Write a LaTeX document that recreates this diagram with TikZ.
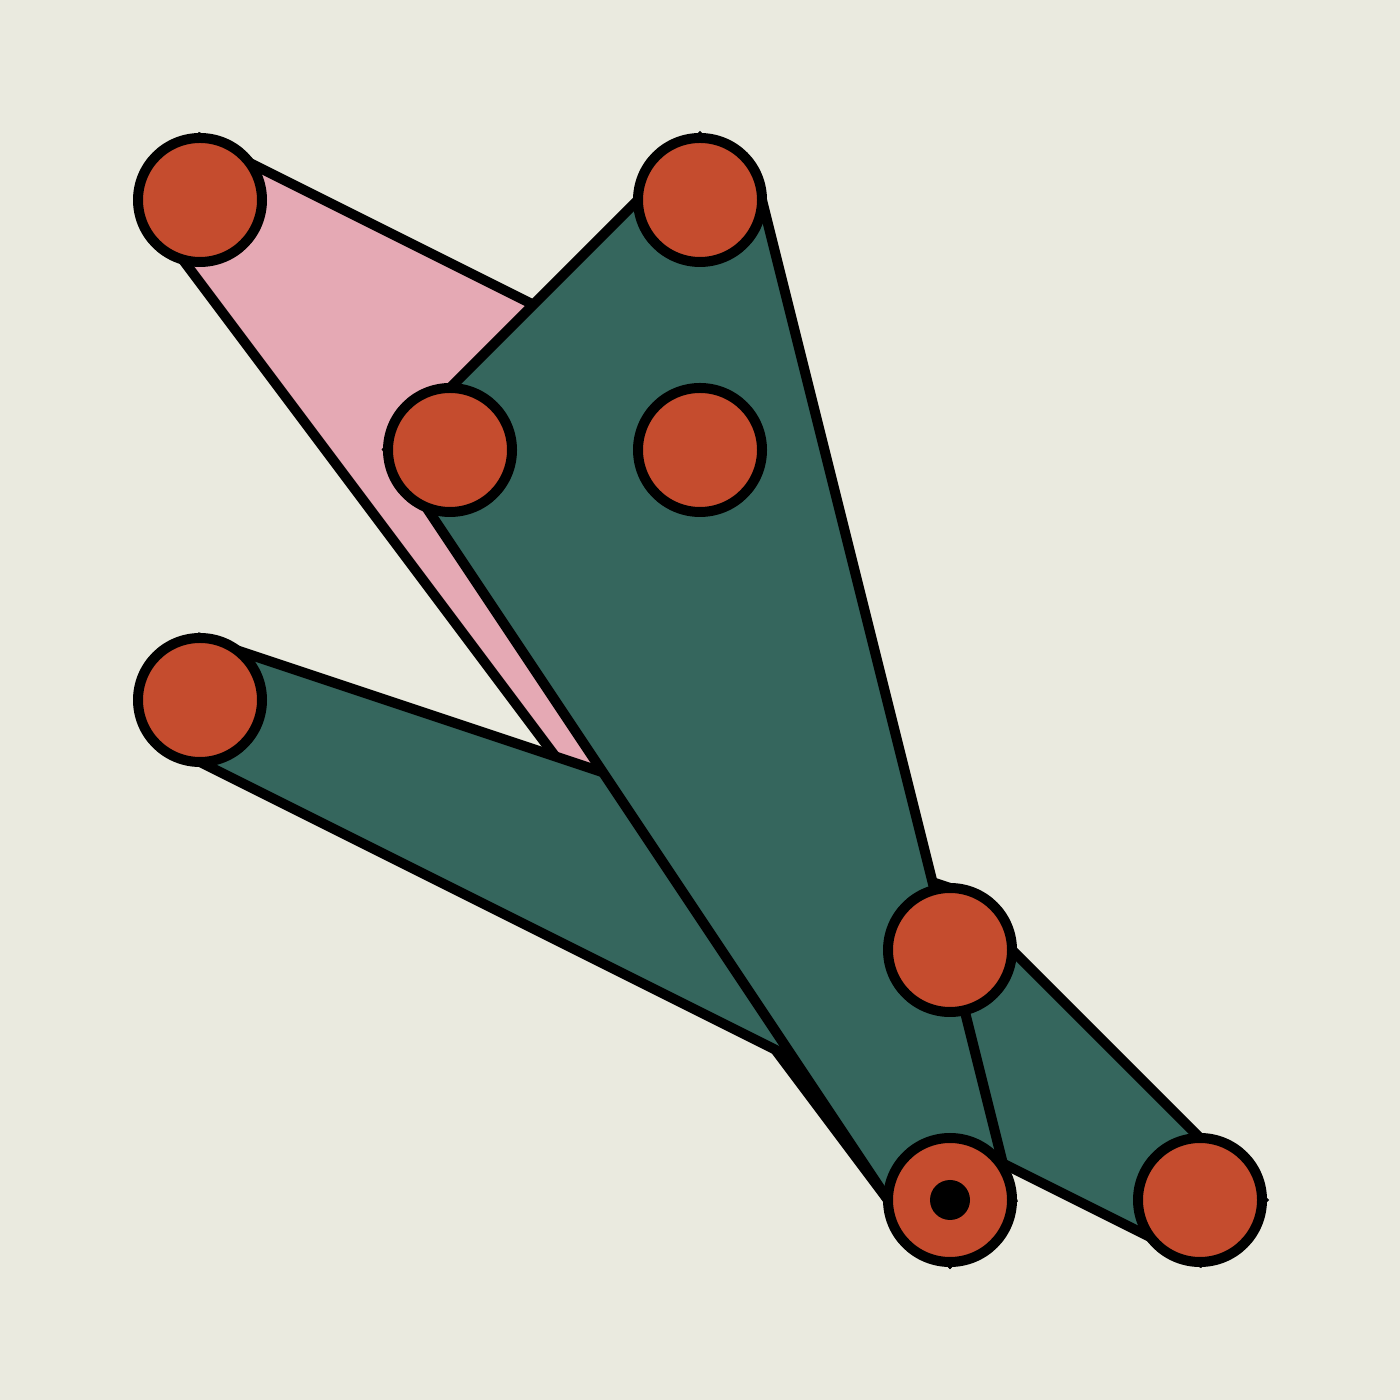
\documentclass[tikz,border=0pt]{standalone}
\usepackage{tikz}
\usetikzlibrary{backgrounds}

\definecolor{paper}{HTML}{EAEADF}
\definecolor{rust}{HTML}{C54C2E}
\definecolor{pine}{HTML}{35665D}
\definecolor{blush}{HTML}{E5A9B4}

\begin{document}
\begin{tikzpicture}[%
    line width=1mm,
    joint/.style={circle, draw, fill=rust, minimum size=12.4mm, inner sep=0pt, outer sep=0pt},
    pin/.style={circle, fill=black, minimum size=4mm, inner sep=0pt},
    hull/.style={draw, line width=1mm, fill=#1}
  ]
    \foreach \n/\x/\y in {a/2/12, b/7/12, c/4.5/9.5, d/7/9.5, e/2/7, f/9.5/4.5, g/9.5/2, h/12/2}
      {\node[joint] (\n) at (\x,\y) {};}
    \node[pin] (gpin) at (g) {};

    % hulls go under the joints
    \begin{scope}[on background layer]
      \fill[paper] (0,0) rectangle (14,14);
      \draw[hull=blush] (a.west) -- (a.north) -- (d.north) -- (d.east) -- (g.east) -- (g.south) -- (g.west) -- (a.west);
      \draw[hull=pine] (e.west) -- (e.north) -- (f.north) -- (f.east) -- (h.east) -- (h.south) -- (e.south) -- (e.west);
      \draw[hull=pine] (b.west) -- (b.north) -- (b.east) -- (g.east) -- (g.south) -- (g.west) -- (c.west) -- (c.north) -- cycle;
    \end{scope}
  \end{tikzpicture}
\end{document}
